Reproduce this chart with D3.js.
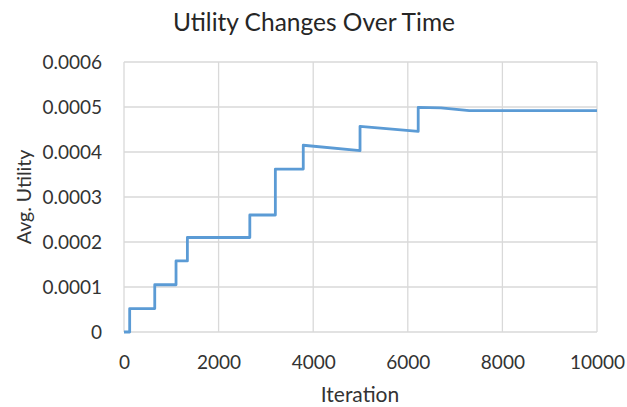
<!DOCTYPE html>
<html>
<head>
<meta charset="utf-8">
<script src="https://cdn.jsdelivr.net/npm/d3@7"></script>
<style>
  body { margin: 0; background: #fff; }
  text { font-family: Lato, "Open Sans", sans-serif; }
</style>
</head>
<body>
<div id="chart"></div>
<script>
// step points: iteration / avg. utility
const iterations = [0, 120, 120, 650, 650, 1100, 1100, 1340, 1340, 2660, 2660, 3200, 3200, 3790, 3790, 4990, 4990, 6220, 6220, 6700, 7300, 10000];
const utility = [0, 0, 0.000052, 0.000052, 0.000105, 0.000105, 0.000158, 0.000158, 0.00021, 0.00021, 0.00026, 0.00026, 0.000362, 0.000362, 0.000415, 0.000403, 0.000457, 0.000446, 0.000499, 0.000498, 0.000492, 0.000492];
const xTicks = [0, 2000, 4000, 6000, 8000, 10000];
const yTicks = [0, 0.0001, 0.0002, 0.0003, 0.0004, 0.0005, 0.0006];

const width = 627, height = 407;
const margin = { top: 62, right: 30, bottom: 75, left: 124 };

const svg = d3.select("#chart")
    .append("svg")
    .attr("width", width)
    .attr("height", height);

const x = d3.scaleLinear()
    .domain([0, 10000])
    .range([margin.left, width - margin.right]);

const y = d3.scaleLinear()
    .domain([0, 0.0006])
    .range([height - margin.bottom, margin.top]);

// gridlines
svg.append("g")
    .selectAll("line.h")
    .data(yTicks)
    .join("line")
    .attr("x1", x(0))
    .attr("x2", x(10000))
    .attr("y1", d => y(d))
    .attr("y2", d => y(d))
    .attr("stroke", "#d9d9d9")
    .attr("stroke-width", 1.3);

svg.append("g")
    .selectAll("line.v")
    .data(xTicks)
    .join("line")
    .attr("x1", d => x(d))
    .attr("x2", d => x(d))
    .attr("y1", y(0))
    .attr("y2", y(0.0006))
    .attr("stroke", "#d9d9d9")
    .attr("stroke-width", 1.3);

// axes (labels only)
const xAxis = d3.axisBottom(x).tickValues(xTicks).tickSize(0).tickPadding(24).tickFormat(d3.format("d"));
const yAxis = d3.axisLeft(y).tickValues(yTicks).tickSize(0).tickPadding(22).tickFormat(d => d === 0 ? "0" : d.toFixed(4));

svg.append("g")
    .attr("transform", `translate(0,${y(0)})`)
    .call(xAxis)
    .call(g => g.select(".domain").remove())
    .selectAll("text")
    .attr("font-size", 19)
    .attr("fill", "#333");

svg.append("g")
    .attr("transform", `translate(${x(0)},0)`)
    .call(yAxis)
    .call(g => g.select(".domain").remove())
    .selectAll("text")
    .attr("font-size", 19)
    .attr("fill", "#333");

// the line
const line = d3.line()
    .x((d, i) => x(iterations[i]))
    .y(d => y(d));

svg.append("path")
    .datum(utility)
    .attr("fill", "none")
    .attr("stroke", "#5b9bd5")
    .attr("stroke-width", 2.8)
    .attr("stroke-linejoin", "round")
    .attr("d", line);

// titles
svg.append("text")
    .attr("x", 314)
    .attr("y", 31)
    .attr("text-anchor", "middle")
    .attr("font-size", 24.5)
    .attr("fill", "#262626")
    .text("Utility Changes Over Time");

svg.append("text")
    .attr("x", 360)
    .attr("y", 402)
    .attr("text-anchor", "middle")
    .attr("font-size", 21)
    .attr("fill", "#333")
    .text("Iteration");

svg.append("text")
    .attr("transform", "translate(31,197) rotate(-90)")
    .attr("text-anchor", "middle")
    .attr("font-size", 19.5)
    .attr("fill", "#333")
    .text("Avg. Utility");
</script>
</body>
</html>
